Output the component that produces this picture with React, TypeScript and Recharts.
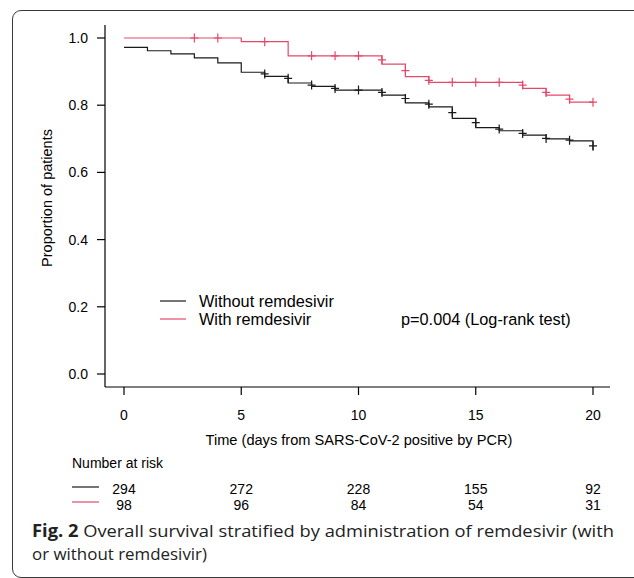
import { ComposedChart, Line, Scatter, XAxis, YAxis } from 'recharts';

// Kaplan-Meier step values, one per day (value holds from that day on)
const DAYS = [0, 1, 2, 3, 4, 5, 6, 7, 8, 9, 10, 11, 12, 13, 14, 15, 16, 17, 18, 19, 20];
const WITHOUT_SURV = [0.972, 0.962, 0.953, 0.941, 0.926, 0.898, 0.886, 0.866, 0.856, 0.845, 0.845, 0.83, 0.807, 0.795, 0.761, 0.733, 0.724, 0.711, 0.7, 0.694, 0.665];
const WITH_SURV = [1.0, 1.0, 1.0, 1.0, 1.0, 0.989, 0.989, 0.947, 0.947, 0.947, 0.947, 0.922, 0.885, 0.868, 0.868, 0.868, 0.868, 0.85, 0.83, 0.809, 0.809];

// censoring marks (+)
const WITHOUT_CENS_T = [6, 7, 8, 9, 10, 11, 12, 13, 14, 15, 16, 17, 18, 19, 20];
const WITHOUT_CENS_S = [0.893, 0.88, 0.86, 0.85, 0.845, 0.838, 0.82, 0.803, 0.778, 0.748, 0.729, 0.716, 0.701, 0.696, 0.679];
const WITH_CENS_T = [3, 4, 6, 8, 9, 10, 11, 12, 13, 14, 15, 16, 17, 18, 19, 20];
const WITH_CENS_S = [1.0, 1.0, 0.989, 0.947, 0.947, 0.947, 0.935, 0.903, 0.874, 0.868, 0.868, 0.868, 0.86, 0.838, 0.818, 0.809];

// number at risk
const RISK_DAYS = [0, 5, 10, 15, 20];
const RISK_WITHOUT = [294, 272, 228, 155, 92];
const RISK_WITH = [98, 96, 84, 54, 31];

const Y_TICKS = [0, 0.2, 0.4, 0.6, 0.8, 1.0];

const BLACK = '#1a1a1a';
const RED = '#e34a69';
const FONT = '"Liberation Sans", Arial, sans-serif';

// plot geometry (page px) - kept in sync with chart margins / axis padding
const PLOT_LEFT = 105;
const PAD_LEFT = 19;
const PAD_RIGHT = 17;
const PLOT_RIGHT = 610;
const dayToX = (d: number) =>
  PLOT_LEFT + PAD_LEFT + (d / 20) * (PLOT_RIGHT - PLOT_LEFT - PAD_LEFT - PAD_RIGHT);

const kmData = DAYS.map((t, i) => ({ t, without: WITHOUT_SURV[i], with: WITH_SURV[i] }));
const censWithout = WITHOUT_CENS_T.map((t, i) => ({ t, s: WITHOUT_CENS_S[i] }));
const censWith = WITH_CENS_T.map((t, i) => ({ t, s: WITH_CENS_S[i] }));

const plusMark = (color: string) => (props: any) => {
  const { cx, cy } = props;
  return (
    <path
      d={`M${cx - 4},${cy}h8M${cx},${cy - 4.5}v9`}
      stroke={color}
      strokeWidth={1.2}
      fill="none"
    />
  );
};

export default function App() {
  return (
    <div
      style={{
        position: 'absolute',
        left: 0,
        top: 0,
        width: 634,
        height: 578,
        overflow: 'hidden',
        background: '#fff',
      }}
    >
      {/* figure frame */}
      <div
        style={{
          position: 'absolute',
          left: 12,
          top: 10,
          width: 660,
          height: 566,
          border: '1px solid #3a3a3a',
          borderRadius: 9,
        }}
      />
      <div style={{ position: 'absolute', left: 0, top: 0 }}>
        <ComposedChart
          width={634}
          height={460}
          data={kmData}
          margin={{ top: 25, right: 24, bottom: 0, left: 0 }}
        >
          <XAxis
            type="number"
            dataKey="t"
            domain={[0, 20]}
            ticks={RISK_DAYS}
            padding={{ left: PAD_LEFT, right: PAD_RIGHT }}
            height={73}
            tickSize={8}
            tickMargin={15}
            axisLine={{ stroke: '#000', strokeWidth: 1.2 }}
            tickLine={{ stroke: '#000', strokeWidth: 1.2 }}
            tick={{ fill: '#000', fontSize: 14, fontFamily: FONT }}
          />
          <YAxis
            type="number"
            domain={[0, 1]}
            ticks={Y_TICKS}
            tickFormatter={(v: number) => v.toFixed(1)}
            padding={{ top: 13, bottom: 13 }}
            width={105}
            tickSize={8}
            tickMargin={9}
            axisLine={{ stroke: '#000', strokeWidth: 1.2 }}
            tickLine={{ stroke: '#000', strokeWidth: 1.2 }}
            tick={{ fill: '#000', fontSize: 14, fontFamily: FONT }}
          />
          <Line
            type="stepAfter"
            dataKey="without"
            stroke={BLACK}
            strokeWidth={1.2}
            dot={false}
            isAnimationActive={false}
          />
          <Line
            type="stepAfter"
            dataKey="with"
            stroke={RED}
            strokeWidth={1.2}
            dot={false}
            isAnimationActive={false}
          />
          <Scatter data={censWithout} dataKey="s" shape={plusMark(BLACK)} isAnimationActive={false} />
          <Scatter data={censWith} dataKey="s" shape={plusMark(RED)} isAnimationActive={false} />
        </ComposedChart>
      </div>

      {/* labels, legend, risk table, caption */}
      <svg
        width={634}
        height={578}
        style={{ position: 'absolute', left: 0, top: 0, pointerEvents: 'none' }}
        fontFamily={FONT}
      >
        <text
          transform="translate(52,198) rotate(-90)"
          textAnchor="middle"
          fontSize={14.5}
          fill="#000"
        >
          Proportion of patients
        </text>
        <text x={359} y={445} textAnchor="middle" fontSize={14.6} fill="#000">
          Time (days from SARS-CoV-2 positive by PCR)
        </text>

        <line x1={160} x2={186} y1={301} y2={301} stroke={BLACK} strokeWidth={1.2} />
        <line x1={160} x2={186} y1={319} y2={319} stroke={RED} strokeWidth={1.2} />
        <text x={199} y={307} fontSize={16.3} fill="#000">Without remdesivir</text>
        <text x={199} y={325} fontSize={16.3} fill="#000">With remdesivir</text>
        <text x={401} y={325} fontSize={16.3} fill="#000">p=0.004 (Log-rank test)</text>

        <text x={72} y={468} fontSize={14} fill="#000">Number at risk</text>
        <line x1={72} x2={99} y1={487} y2={487} stroke={BLACK} strokeWidth={1.2} />
        <line x1={72} x2={99} y1={502} y2={502} stroke={RED} strokeWidth={1.2} />
        {RISK_DAYS.map((d, i) => (
          <text key={`a${d}`} x={dayToX(d)} y={494} textAnchor="middle" fontSize={14} fill="#000">
            {RISK_WITHOUT[i]}
          </text>
        ))}
        {RISK_DAYS.map((d, i) => (
          <text key={`b${d}`} x={dayToX(d)} y={510} textAnchor="middle" fontSize={14} fill="#000">
            {RISK_WITH[i]}
          </text>
        ))}

        <text
          x={32}
          y={537}
          fontFamily='"Open Sans", "Noto Sans", sans-serif'
          fontSize={17}
          fill="#222"
          textLength={582}
          lengthAdjust="spacingAndGlyphs"
        >
          <tspan fontWeight={700}>Fig. 2</tspan>
          <tspan>{'  Overall survival stratified by administration of remdesivir (with'}</tspan>
        </text>
        <text
          x={32}
          y={560}
          fontFamily='"Open Sans", "Noto Sans", sans-serif'
          fontSize={17}
          fill="#222"
          textLength={175}
          lengthAdjust="spacingAndGlyphs"
        >
          or without remdesivir)
        </text>
      </svg>
    </div>
  );
}
